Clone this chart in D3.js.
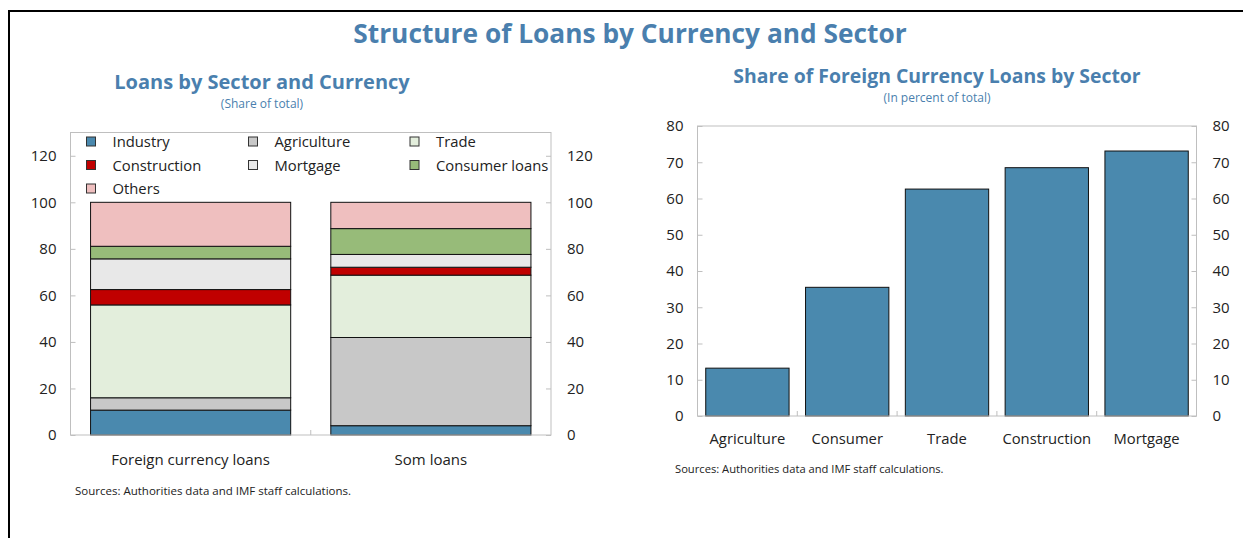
<!DOCTYPE html>
<html>
<head>
<meta charset="utf-8">
<script src="https://cdn.jsdelivr.net/npm/d3@7"></script>
<style>
  html, body { margin: 0; padding: 0; background: #fff; }
  svg { display: block; }
  text { font-family: "Open Sans", "Noto Sans", sans-serif; }
</style>
</head>
<body>
<svg id="chart" width="1243" height="538"></svg>
<script>
// Left panel: sector composition of loans, by currency (share of total)
const sectors = ["Industry", "Agriculture", "Trade", "Construction", "Mortgage", "Consumer loans", "Others"];
const loanTypes = ["Foreign currency loans", "Som loans"];
const foreignShares = [10.7, 5.3, 39.9, 6.6, 13.2, 5.4, 18.9];
const somShares = [4.0, 37.9, 26.8, 3.4, 5.5, 11.1, 11.3];
const leftTicks = [0, 20, 40, 60, 80, 100, 120];

// Right panel: foreign-currency share within each sector (percent)
const fxSectors = ["Agriculture", "Consumer", "Trade", "Construction", "Mortgage"];
const fxShares = [13.2, 35.5, 62.6, 68.5, 73.1];
const rightTicks = [0, 10, 20, 30, 40, 50, 60, 70, 80];

const sectorColors = ["#4a89ae", "#c8c8c8", "#e3eedc", "#c00000", "#e8e8e8", "#97bb79", "#efbfbf"];
const titleBlue = "#4a7fae";
const axisGrey = "#bfbfbf";
const textDark = "#222";

const svg = d3.select("#chart");

// outer frame (top and left rules)
svg.append("line").attr("x1", 9).attr("x2", 1243).attr("y1", 11).attr("y2", 11)
  .attr("stroke", "#000").attr("stroke-width", 2);
svg.append("line").attr("x1", 9).attr("x2", 9).attr("y1", 10).attr("y2", 538)
  .attr("stroke", "#000").attr("stroke-width", 2);

svg.append("text").attr("x", 630).attr("y", 43).attr("text-anchor", "middle")
  .attr("font-size", 26.3).attr("font-weight", 700).attr("fill", titleBlue)
  .text("Structure of Loans by Currency and Sector");

// ---------- Left panel ----------
const L = { left: 70.5, right: 551, top: 132.5, bottom: 435 };

svg.append("text").attr("x", 262).attr("y", 89).attr("text-anchor", "middle")
  .attr("font-size", 20).attr("font-weight", 700).attr("fill", titleBlue)
  .text("Loans by Sector and Currency");
svg.append("text").attr("x", 262).attr("y", 108).attr("text-anchor", "middle")
  .attr("font-size", 12).attr("fill", titleBlue).text("(Share of total)");

const xL = d3.scaleBand().domain(loanTypes).range([L.left, L.right]).paddingInner(0.167).paddingOuter(0.0835);
const yL = d3.scaleLinear().domain([0, 130]).range([L.bottom, L.top]);

const rows = loanTypes.map((t, i) => {
  const vals = i === 0 ? foreignShares : somShares;
  const r = { type: t };
  sectors.forEach((s, j) => r[s] = vals[j]);
  return r;
});
const stacked = d3.stack().keys(sectors)(rows);
const color = d3.scaleOrdinal().domain(sectors).range(sectorColors);

const gL = svg.append("g");
gL.selectAll("g.layer").data(stacked).join("g").attr("class", "layer")
  .attr("fill", d => color(d.key))
  .selectAll("rect").data(d => d).join("rect")
  .attr("x", d => xL(d.data.type))
  .attr("width", xL.bandwidth())
  .attr("y", d => yL(d[1]))
  .attr("height", d => yL(d[0]) - yL(d[1]))
  .attr("stroke", "#111").attr("stroke-width", 1);

// plot box
svg.append("rect").attr("x", L.left).attr("y", L.top).attr("width", L.right - L.left)
  .attr("height", L.bottom - L.top).attr("fill", "none").attr("stroke", axisGrey).attr("stroke-width", 1);

const yAxisL = d3.axisLeft(yL).tickValues(leftTicks).tickSize(-5).tickPadding(14);
const yAxisR = d3.axisRight(yL).tickValues(leftTicks).tickSize(-5).tickPadding(16);
function styleAxis(g) {
  g.select(".domain").remove();
  g.selectAll(".tick line").attr("stroke", axisGrey);
  g.selectAll(".tick text").attr("font-size", 15).attr("fill", textDark)
    .attr("font-family", "'Open Sans', sans-serif");
}
svg.append("g").attr("transform", `translate(${L.left},0)`).call(yAxisL).call(styleAxis);
svg.append("g").attr("transform", `translate(${L.right},0)`).call(yAxisR).call(styleAxis);

// category boundary tick
const midL = (xL(loanTypes[0]) + xL.bandwidth() + xL(loanTypes[1])) / 2;
svg.append("line").attr("x1", midL).attr("x2", midL).attr("y1", L.bottom).attr("y2", L.bottom - 5)
  .attr("stroke", axisGrey);

svg.append("g").selectAll("text").data(loanTypes).join("text")
  .attr("x", d => xL(d) + xL.bandwidth() / 2).attr("y", 465)
  .attr("text-anchor", "middle").attr("font-size", 15).attr("fill", textDark).text(d => d);

// legend
const legCols = [86.5, 248.5, 410];
const legRows = [141.5, 165, 188.5];
const leg = svg.append("g").selectAll("g").data(sectors).join("g")
  .attr("transform", (d, i) => `translate(${legCols[i % 3]},${legRows[Math.floor(i / 3)]})`);
leg.append("rect").attr("x", 0).attr("y", -4.5).attr("width", 9).attr("height", 9)
  .attr("fill", d => color(d)).attr("stroke", "#333").attr("stroke-width", 1);
leg.append("text").attr("x", 26).attr("y", 5.5).attr("font-size", 14.8).attr("fill", textDark).text(d => d);

svg.append("text").attr("x", 75).attr("y", 495).attr("font-size", 11.5).attr("fill", textDark)
  .text("Sources: Authorities data and IMF staff calculations.");

// ---------- Right panel ----------
const R = { left: 697.5, right: 1196.5, top: 126, bottom: 416 };

svg.append("text").attr("x", 937).attr("y", 83).attr("text-anchor", "middle")
  .attr("font-size", 19.4).attr("font-weight", 700).attr("fill", titleBlue)
  .text("Share of Foreign Currency Loans by Sector");
svg.append("text").attr("x", 937).attr("y", 102).attr("text-anchor", "middle")
  .attr("font-size", 12).attr("fill", titleBlue).text("(In percent of total)");

const xR = d3.scaleBand().domain(fxSectors).range([R.left, R.right]).paddingInner(0.165).paddingOuter(0.0825);
const yR = d3.scaleLinear().domain([0, 80]).range([R.bottom, R.top]);

svg.append("g").selectAll("rect").data(fxSectors).join("rect")
  .attr("x", d => xR(d)).attr("width", xR.bandwidth())
  .attr("y", (d, i) => yR(fxShares[i]))
  .attr("height", (d, i) => yR(0) - yR(fxShares[i]))
  .attr("fill", sectorColors[0]).attr("stroke", "#111").attr("stroke-width", 1);

svg.append("rect").attr("x", R.left).attr("y", R.top).attr("width", R.right - R.left)
  .attr("height", R.bottom - R.top).attr("fill", "none").attr("stroke", axisGrey).attr("stroke-width", 1);

svg.append("g").attr("transform", `translate(${R.left},0)`)
  .call(d3.axisLeft(yR).tickValues(rightTicks).tickSize(-5).tickPadding(14)).call(styleAxis);
svg.append("g").attr("transform", `translate(${R.right},0)`)
  .call(d3.axisRight(yR).tickValues(rightTicks).tickSize(-5).tickPadding(16)).call(styleAxis);

// boundary ticks between categories
const stepR = xR.step();
svg.append("g").selectAll("line").data(fxSectors.slice(1)).join("line")
  .attr("x1", d => xR(d) - stepR * xR.paddingInner() / 2)
  .attr("x2", d => xR(d) - stepR * xR.paddingInner() / 2)
  .attr("y1", R.bottom).attr("y2", R.bottom - 5).attr("stroke", axisGrey);

svg.append("g").selectAll("text").data(fxSectors).join("text")
  .attr("x", d => xR(d) + xR.bandwidth() / 2).attr("y", 444)
  .attr("text-anchor", "middle").attr("font-size", 14.8).attr("fill", textDark).text(d => d);

svg.append("text").attr("x", 675).attr("y", 473).attr("font-size", 11.2).attr("fill", textDark)
  .text("Sources: Authorities data and IMF staff calculations.");
</script>
</body>
</html>
